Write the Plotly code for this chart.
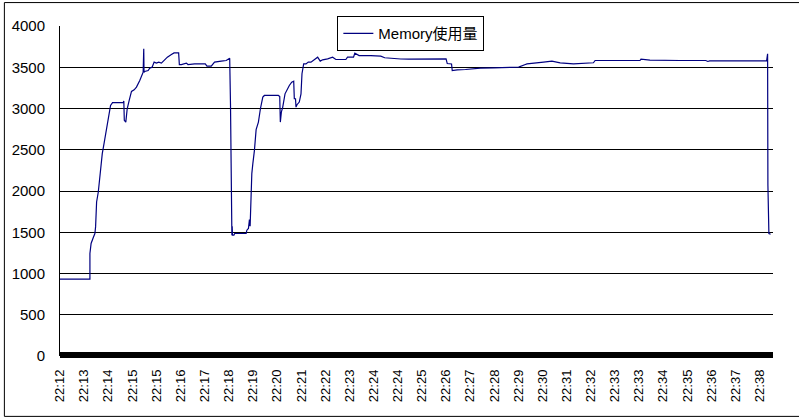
import plotly.graph_objects as go

# tick labels of the category axis (one every label step)
time_labels = [
    "22:12", "22:13", "22:14", "22:15", "22:15", "22:16", "22:17", "22:18",
    "22:19", "22:20", "22:21", "22:22", "22:23", "22:24", "22:24", "22:25",
    "22:26", "22:27", "22:28", "22:29", "22:30", "22:31", "22:32", "22:33",
    "22:33", "22:34", "22:35", "22:36", "22:37", "22:38",
]

# position along the time axis, in label steps from 22:12
pos = [
    0.000, 1.240, 1.240, 1.289, 1.380, 1.446, 1.475, 1.517, 1.587, 1.653,
    1.752, 1.835, 1.930, 2.000, 2.095, 2.178, 2.620, 2.645, 2.665, 2.727,
    2.785, 2.868, 2.963, 3.074, 3.169, 3.306, 3.376, 3.446, 3.471, 3.483,
    3.512, 3.653, 3.719, 3.818, 3.901, 3.996, 4.091, 4.202, 4.298, 4.450,
    4.616, 4.727, 4.917, 4.946, 5.029, 5.236, 5.306, 5.579, 6.021, 6.091,
    6.269, 6.405, 6.682, 6.888, 7.033, 7.066, 7.124, 7.136, 7.149, 7.207,
    7.240, 7.715, 7.744, 7.810, 7.851, 7.880, 7.921, 7.950, 7.992, 8.058,
    8.128, 8.223, 8.306, 8.405, 8.471, 9.050, 9.107, 9.132, 9.174, 9.231,
    9.326, 9.409, 9.504, 9.603, 9.686, 9.711, 9.760, 9.781, 9.822, 9.917,
    9.988, 10.029, 10.099, 10.194, 10.289, 10.401, 10.537, 10.678, 10.785, 10.884,
    11.091, 11.298, 11.434, 11.847, 11.917, 12.165, 12.219, 12.397, 12.880, 13.293,
    13.459, 13.707, 14.120, 14.450, 15.029, 15.649, 16.000, 16.050, 16.227, 16.256,
    16.463, 16.806, 17.426, 17.975, 19.008, 19.285, 19.355, 20.041, 20.388, 20.731,
    21.281, 22.107, 22.178, 22.798, 24.037, 24.079, 24.450, 25.690, 26.764, 26.847,
    26.930, 29.285, 29.326, 29.339, 29.380, 29.450,
]

memory = [
    932, 932, 1243, 1364, 1436, 1485, 1565, 1867, 1988, 2211,
    2453, 2593, 2755, 2896, 3037, 3070, 3070, 3090, 2856, 2835,
    2997, 3098, 3207, 3227, 3259, 3340, 3388, 3440, 3723, 3440,
    3448, 3461, 3489, 3501, 3562, 3550, 3562, 3550, 3582, 3622,
    3654, 3674, 3674, 3533, 3533, 3550, 3533, 3541, 3541, 3513,
    3513, 3562, 3574, 3582, 3610, 3058, 1464, 1573, 1464, 1464,
    1485, 1485, 1525, 1545, 1654, 1573, 1969, 2211, 2332, 2493,
    2743, 2835, 2997, 3138, 3158, 3158, 3146, 2835, 2956, 3017,
    3178, 3227, 3279, 3319, 3331, 3118, 3118, 3017, 3046, 3078,
    3178, 3421, 3541, 3541, 3562, 3562, 3590, 3622, 3574, 3590,
    3602, 3622, 3594, 3594, 3622, 3622, 3670, 3642, 3642, 3634,
    3615, 3608, 3600, 3598, 3602, 3602, 3602, 3545, 3540, 3461,
    3469, 3473, 3489, 3493, 3501, 3533, 3541, 3562, 3574, 3554,
    3541, 3554, 3582, 3582, 3582, 3598, 3586, 3582, 3582, 3570,
    3578, 3578, 3663, 2069, 1485, 1476,
]

y_ticks = [0, 500, 1000, 1500, 2000, 2500, 3000, 3500, 4000]

font = "Liberation Sans, Arial, Noto Sans CJK JP"

fig = go.Figure()
fig.add_trace(go.Scatter(
    x=pos, y=memory, mode="lines", name="Memory使用量",
    line=dict(color="#000080", width=1.2),
))

fig.update_layout(
    width=799, height=418,
    margin=dict(l=58, r=26, t=26, b=62),
    paper_bgcolor="white", plot_bgcolor="white",
    font=dict(family=font, size=14, color="black"),
    showlegend=True,
    legend=dict(
        x=0.389, y=1.03, xanchor="left", yanchor="top",
        bgcolor="white", bordercolor="black", borderwidth=1,
        font=dict(size=15), itemwidth=30,
    ),
    xaxis=dict(
        range=[0, 29.55], tickmode="array",
        tickvals=list(range(len(time_labels))), ticktext=time_labels,
        tickangle=-90, showgrid=False, zeroline=False,
        showline=False, ticks="", ticklabelstandoff=10,
        tickfont=dict(size=13),
    ),
    yaxis=dict(
        range=[0, 4000], tickmode="array", tickvals=y_ticks,
        ticktext=[str(v) for v in y_ticks],
        showgrid=True, gridcolor="black", gridwidth=1,
        zeroline=False, showline=True, linecolor="black", linewidth=1,
        ticks="", ticklabelstandoff=11, tickfont=dict(size=15),
    ),
)

# heavy category axis band and outer chart frame
fig.add_shape(type="line", xref="paper", yref="paper",
              x0=0, x1=1, y0=0.003, y1=0.003,
              line=dict(color="black", width=6))
fig.add_shape(type="rect", xref="paper", yref="paper",
              x0=-0.078, x1=1.05, y0=-0.183, y1=1.071,
              line=dict(color="black", width=1))

# drop the default page margin so the chart sits at the window corner
fig.write_html("out.html", config={"displayModeBar": False},
               post_script="document.body.style.margin='0';")
